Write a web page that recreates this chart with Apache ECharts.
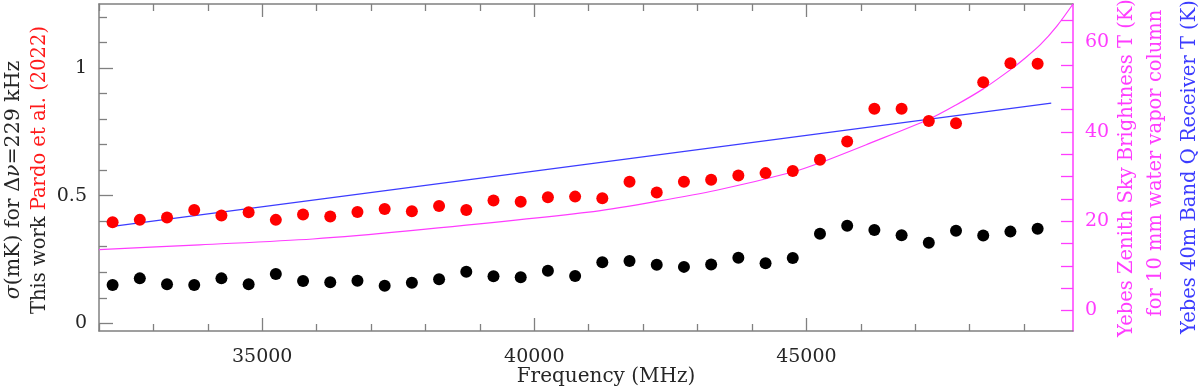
<!DOCTYPE html>
<html>
<head>
<meta charset="utf-8">
<script src="https://cdn.jsdelivr.net/npm/echarts@6/dist/echarts.min.js"></script>
<style>
  html, body { margin: 0; padding: 0; background: #fff; }
  #chart { width: 1200px; height: 387px; }
</style>
</head>
<body>
<div id="chart"></div>
<script>
// ---------- data ----------
const freqs = [32250, 32750, 33250, 33750, 34250, 34750, 35250, 35750, 36250, 36750,
               37250, 37750, 38250, 38750, 39250, 39750, 40250, 40750, 41250, 41750,
               42250, 42750, 43250, 43750, 44250, 44750, 45250, 45750, 46250, 46750,
               47250, 47750, 48250, 48750, 49250];
const pardoVals = [0.396, 0.405, 0.414, 0.444, 0.422, 0.435, 0.405, 0.426, 0.418, 0.436,
                   0.448, 0.439, 0.459, 0.444, 0.481, 0.476, 0.494, 0.496, 0.490, 0.554,
                   0.512, 0.554, 0.562, 0.579, 0.588, 0.596, 0.640, 0.712, 0.840, 0.840,
                   0.792, 0.783, 0.944, 1.018, 1.016];
const thisWorkVals = [0.150, 0.176, 0.153, 0.150, 0.176, 0.153, 0.193, 0.166, 0.161, 0.167,
                      0.147, 0.159, 0.173, 0.202, 0.184, 0.180, 0.206, 0.185, 0.239, 0.244,
                      0.229, 0.221, 0.230, 0.257, 0.235, 0.256, 0.351, 0.382, 0.365, 0.345,
                      0.315, 0.362, 0.344, 0.359, 0.370];
const skyFreqs = [32000, 33850, 35930, 37680, 41000, 42240, 43350, 44750, 45240, 46160,
                  47250, 47750, 48250, 48740, 49000, 49300, 49600, 49900];
const skyT = [13.6, 14.7, 16.0, 17.8, 22.0, 24.4, 26.9, 31.0, 33.0, 37.4,
              42.8, 46.0, 49.6, 53.8, 56.3, 59.5, 63.6, 68.6];
const rxFreqs = [32250, 40000, 45000, 49500];
const rxT = [18.8, 31.2, 39.2, 46.4];

const xMajorTicks = [35000, 40000, 45000];
const xMinorTicks = [32000, 33000, 34000, 36000, 37000, 38000, 39000, 41000, 42000, 43000,
                     44000, 46000, 47000, 48000, 49000];
const yMajorTicks = [0, 0.5, 1];
const yMinorTicks = [0.1, 0.2, 0.3, 0.4, 0.6, 0.7, 0.8, 0.9, 1.1, 1.2];
const tMajorTicks = [0, 20, 40, 60];
const tAllTicks = [0, 5, 10, 15, 20, 25, 30, 35, 40, 45, 50, 55, 60, 65];

// ---------- style ----------
const FONT = '"DejaVu Serif", "Liberation Serif", serif';
const GRAY = '#808080';
const MAGENTA = '#ff3cff';
const BLUE = '#3c3cff';
const LABEL_COLOR = '#262626';

const X_MIN = 32000, X_MAX = 49900;
const Y_MIN = -0.03, Y_MAX = 1.25;
const T_MIN = -4.6, T_MAX = 68.6;

function zip(a, b) { return a.map((v, i) => [v, b[i]]); }

function xAxisDef(position, ticks, len, showLine, labels) {
  return {
    type: 'value', position: position, min: X_MIN, max: X_MAX,
    axisLine: { show: showLine, onZero: false, lineStyle: { color: GRAY, width: 1.5 } },
    axisTick: { show: true, inside: true, length: len, customValues: ticks,
                lineStyle: { color: GRAY, width: 1.3 } },
    axisLabel: labels ? { show: true, customValues: labels, formatter: v => String(v),
                          color: LABEL_COLOR, fontFamily: FONT, fontSize: 19, margin: 17 }
                      : { show: false },
    splitLine: { show: false }
  };
}
function yAxisDef(ticks, len, showLine, labels) {
  return {
    type: 'value', position: 'left', min: Y_MIN, max: Y_MAX,
    axisLine: { show: showLine, onZero: false, lineStyle: { color: GRAY, width: 1.5 } },
    axisTick: { show: true, inside: true, length: len, customValues: ticks,
                lineStyle: { color: GRAY, width: 1.3 } },
    axisLabel: labels ? { show: true, customValues: labels, formatter: v => String(v),
                          color: LABEL_COLOR, fontFamily: FONT, fontSize: 19, margin: 12 }
                      : { show: false },
    splitLine: { show: false }
  };
}

const chart = echarts.init(document.getElementById('chart'), null, { renderer: 'canvas' });
chart.setOption({
  animation: false,
  backgroundColor: '#fff',
  grid: { left: 99, right: 127, top: 4, bottom: 56, containLabel: false },
  xAxis: [
    xAxisDef('bottom', xMinorTicks, 7, true, xMajorTicks),
    xAxisDef('bottom', xMajorTicks, 13, false, null),
    xAxisDef('top', xMinorTicks, 7, true, null),
    xAxisDef('top', xMajorTicks, 13, false, null)
  ],
  yAxis: [
    yAxisDef(yMinorTicks, 8, true, yMajorTicks),
    yAxisDef(yMajorTicks, 14, false, null),
    {
      type: 'value', position: 'right', min: T_MIN, max: T_MAX,
      axisLine: { show: true, onZero: false, lineStyle: { color: MAGENTA, width: 1.5 } },
      axisTick: { show: true, inside: true, length: 12, customValues: tAllTicks,
                  lineStyle: { color: MAGENTA, width: 1.3 } },
      axisLabel: { show: true, customValues: tMajorTicks, formatter: v => String(v),
                   color: MAGENTA, fontFamily: FONT, fontSize: 19, margin: 12 },
      splitLine: { show: false }
    }
  ],
  series: [
    {
      name: 'Sky T', type: 'line', xAxisIndex: 0, yAxisIndex: 2,
      data: zip(skyFreqs, skyT), smooth: 0.3, showSymbol: false, clip: true,
      lineStyle: { color: MAGENTA, width: 1.2 }, z: 2
    },
    {
      name: 'Receiver T', type: 'line', xAxisIndex: 0, yAxisIndex: 2,
      data: zip(rxFreqs, rxT), showSymbol: false, clip: true,
      lineStyle: { color: BLUE, width: 1.2 }, z: 2
    },
    {
      name: 'Pardo et al. (2022)', type: 'scatter', xAxisIndex: 0, yAxisIndex: 0,
      data: zip(freqs, pardoVals), symbol: 'circle', symbolSize: 12,
      itemStyle: { color: '#ff0000', opacity: 1 }, z: 3
    },
    {
      name: 'This work', type: 'scatter', xAxisIndex: 0, yAxisIndex: 0,
      data: zip(freqs, thisWorkVals), symbol: 'circle', symbolSize: 12,
      itemStyle: { color: '#000000', opacity: 1 }, z: 3
    }
  ],
  graphic: [
    {
      type: 'text', x: 606, y: 377,
      style: { text: 'Frequency (MHz)', font: '20px ' + FONT, fill: LABEL_COLOR,
               align: 'center', verticalAlign: 'middle' }
    },
    {
      type: 'text', x: 14, y: 180, rotation: Math.PI / 2,
      style: {
        text: '{i|σ}{n|(mK) for Δ}{i|ν}{n|=229 kHz}',
        align: 'center', verticalAlign: 'middle',
        rich: {
          i: { fontFamily: FONT, fontSize: 20.5, fontStyle: 'italic', fill: LABEL_COLOR },
          n: { fontFamily: FONT, fontSize: 20.5, fill: LABEL_COLOR }
        }
      }
    },
    {
      type: 'text', x: 40, y: 170, rotation: Math.PI / 2,
      style: {
        text: '{a|This work }{b|Pardo et al. (2022)}',
        align: 'center', verticalAlign: 'middle',
        rich: {
          a: { fontFamily: FONT, fontSize: 19.5, fill: LABEL_COLOR },
          b: { fontFamily: FONT, fontSize: 19.5, fill: '#ff1a1a' }
        }
      }
    },
    {
      type: 'text', x: 1127, y: 168, rotation: Math.PI / 2,
      style: { text: 'Yebes Zenith Sky Brightness T (K)', font: '19.5px ' + FONT, fill: MAGENTA,
               align: 'center', verticalAlign: 'middle' }
    },
    {
      type: 'text', x: 1156, y: 163, rotation: Math.PI / 2,
      style: { text: 'for 10 mm water vapor column', font: '19.5px ' + FONT, fill: MAGENTA,
               align: 'center', verticalAlign: 'middle' }
    },
    {
      type: 'text', x: 1190, y: 167, rotation: Math.PI / 2,
      style: { text: 'Yebes 40m Band Q Receiver T (K)', font: '19.5px ' + FONT, fill: BLUE,
               align: 'center', verticalAlign: 'middle' }
    }
  ]
});
</script>
</body>
</html>
